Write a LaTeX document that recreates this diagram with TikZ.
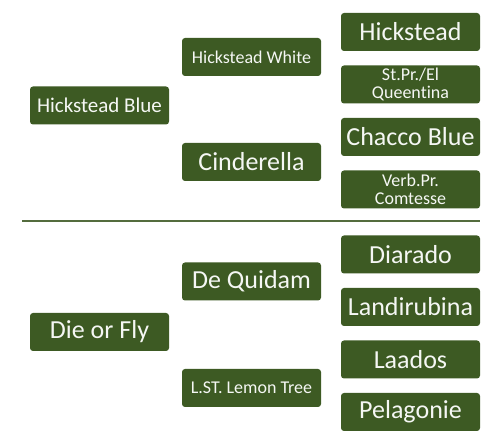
\documentclass[tikz,border=0pt]{standalone}
\usepackage{fontspec}
\setmainfont[Ligatures={NoCommon}]{Carlito}
\usepackage{xcolor}
\usetikzlibrary{positioning}

\definecolor{olive}{RGB}{61,90,35}
\definecolor{rulegreen}{RGB}{84,108,62}

\begin{document}
\begin{tikzpicture}[x=1pt, y=1pt, node distance=52.5pt,
  horse/.style={rectangle, rounded corners=3pt, fill=olive, text=white!95!olive,
    minimum width=139pt, minimum height=38pt, inner sep=1pt, align=center},
  big/.style={font=\fontsize{26}{28}\selectfont},
  mid/.style={font=\fontsize{21}{23}\selectfont},
  small/.style={font=\fontsize{18}{18.3}\selectfont}]

\useasboundingbox[fill=white] (0,0) rectangle (493,-443);

% upper pedigree
\node[horse, big] (hick) at (410.5,-32) {Hickstead};
\node[horse, small] (stpr) [below of=hick] {St.Pr./El\\Queentina};
\node[horse, big] (chacco) [below of=stpr] {Chacco Blue};
\node[horse, small] (verb) [below of=chacco] {Verb.Pr.\\Comtesse};
\node[horse, small] (white) at (251.5,-57) {Hickstead White};
\node[horse, big] (cind) at (251.5,-162) {Cinderella};
\node[horse, mid] (blue) at (99.5,-105.5) {Hickstead Blue};

% separator
\coordinate (sepl) at (22,-221);
\coordinate (sepr) at (480,-221);
\draw[rulegreen, line width=2pt] (sepl) -- (sepr);

% lower pedigree
\node[horse, big] (diar) at (410.5,-254.5) {Diarado};
\node[horse, big] (landi) [below of=diar] {Landirubina};
\node[horse, big] (laad) [below of=landi] {Laados};
\node[horse, big] (pela) [below of=laad] {Pelagonie};
\node[horse, big] (quid) at (251.5,-281.5) {De Quidam};
\node[horse, small] (lemon) at (251.5,-388) {L.ST. Lemon Tree};
\node[horse, big] (fly) at (99.5,-332) {Die or Fly};
\end{tikzpicture}
\end{document}
